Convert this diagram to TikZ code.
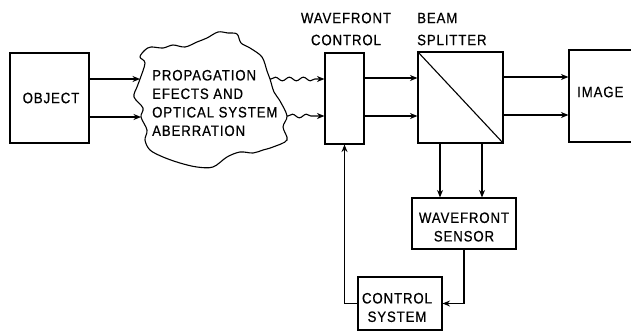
\documentclass[tikz,border=0pt]{standalone}
\usepackage{fontspec}
\setmainfont{Liberation Sans}[FakeStretch=0.88, LetterSpace=6, FakeBold=0.6]
\usetikzlibrary{arrows.meta,decorations.pathmorphing}
\tikzset{
  box/.style={draw, line width=1.1pt, inner sep=0pt, rectangle},
  arr/.style={line width=1.1pt, -{Stealth[length=7.5pt,width=6pt]}},
  wavy/.style={arr, decorate, decoration={snake, amplitude=1.8pt, segment length=14pt, pre length=1pt, post length=8pt}},
  lbl/.style={font=\fontsize{15}{18.5}\selectfont, inner sep=0pt}
}
\begin{document}
\begin{tikzpicture}[x=1pt, y=-1pt]
\useasboundingbox (0,0) rectangle (631,332);
\clip (0,0) rectangle (631,332);
\fill[white] (0,0) rectangle (631,332);
% boxes
\node[box, minimum width=79pt, minimum height=90pt] (obj) at (49.5,98) {};
\node[lbl] at (51,98) {OBJECT};
\node[box, minimum width=39pt, minimum height=91pt] (wc) at (344.5,98.5) {};
\node[box, minimum width=85pt, minimum height=91pt] (bs) at (460.5,97.5) {};
\node[box, minimum width=71pt, minimum height=92pt] (img) at (604.5,96) {};
\node[lbl, anchor=west] at (577,92) {IMAGE};
\node[box, minimum width=104pt, minimum height=51pt] (wfs) at (464,223.5) {};
\node[box, minimum width=84pt, minimum height=53pt] (cs) at (400,303.5) {};
\draw[line width=1.1pt] (bs.north west) -- (bs.south east);
% labels
\node[lbl] at (346,18) {WAVEFRONT};
\node[lbl] at (346,40) {CONTROL};
\node[lbl, anchor=west] at (417,18) {BEAM};
\node[lbl, anchor=west] at (417,40) {SPLITTER};
\node[lbl, align=center] at (464,227) {WAVEFRONT\\SENSOR};
\node[lbl, align=center] at (397,307.5) {CONTROL\\SYSTEM};
% cloud
\draw[line width=1.1pt] plot[smooth cycle, tension=0.55] coordinates {
 (145,50) (151,47) (163,48) (173,45) (185,47) (197,42) (207,38) (218,32)
 (228,33) (237,34) (241,43) (250,48) (262,57) (267,71) (270,79) (274,92)
 (280,101) (287,116) (283,127) (287,140) (273,147) (263,150) (253,153)
 (240,152) (227,157) (213,167) (197,167) (180,163) (163,157) (150,150)
 (145,140) (147,130) (141,117) (143,108) (134,97) (137,87) (140,79)
 (145,63) (140,57)};
\node[lbl, align=left, anchor=west] at (152,103) {PROPAGATION\\EFECTS AND\\OPTICAL SYSTEM\\ABERRATION};
\coordinate (cin1) at (140,79);
\coordinate (cin2) at (141,117);
\coordinate (cout1) at (270,79);
\coordinate (cout2) at (287,116);
% connectors
\draw[arr] (obj.east |- cin1) -- (cin1);
\draw[arr] (obj.east |- cin2) -- (cin2);
\draw[wavy] (cout1) -- (wc.west |- cout1);
\draw[wavy] (cout2) -- (wc.west |- cout2);
\draw[arr] (wc.east |- 0,78) -- (bs.west |- 0,78);
\draw[arr] (wc.east |- 0,116) -- (bs.west |- 0,116);
\draw[arr] (bs.east |- 0,77) -- (img.west |- 0,77);
\draw[arr] (bs.east |- 0,115) -- (img.west |- 0,115);
\draw[arr] (bs.south -| 440,0) -- (wfs.north -| 440,0);
\draw[arr] (bs.south -| 482,0) -- (wfs.north -| 482,0);
\draw[arr] (wfs.south) |- (cs.east);
\draw[arr] (cs.west) -| (wc.south);
\end{tikzpicture}
\end{document}
